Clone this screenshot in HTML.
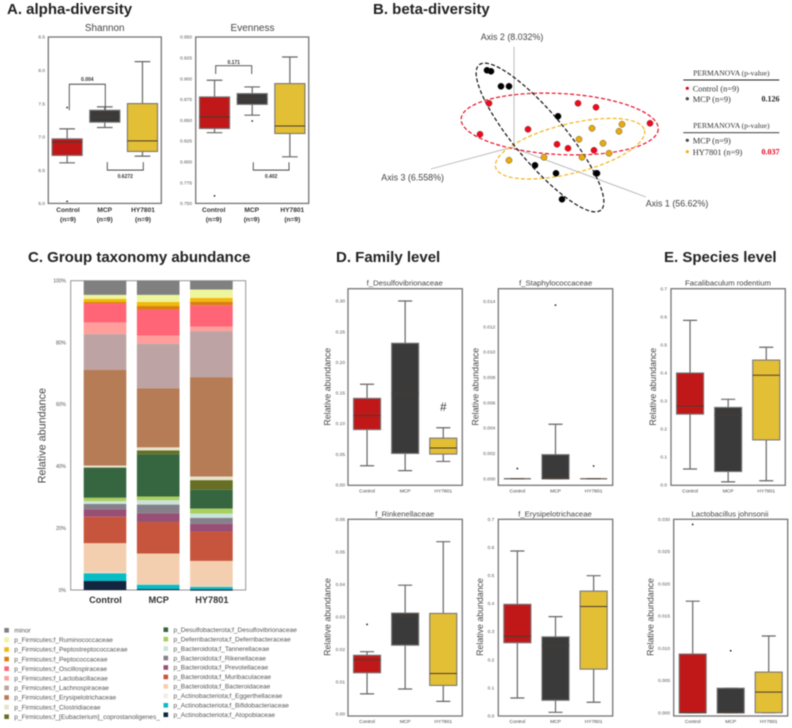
<!DOCTYPE html>
<html lang="en">
<head>
<meta charset="utf-8">
<title>Microbiome diversity and taxonomy figure</title>
<style>
html,body{margin:0;padding:0;background:#fff;}
svg{display:block;filter:blur(0.45px);font-family:"Liberation Sans",sans-serif;}
.h{font-weight:bold;fill:#222;}
.s{font-family:"Liberation Serif",serif;fill:#333;}
</style>
</head>
<body>
<svg id="fig" xmlns="http://www.w3.org/2000/svg" width="792" height="728" viewBox="0 0 792 728">
<rect x="0" y="0" width="792" height="728" fill="#fff"/>
<text class="h" x="7" y="14" font-size="15">A. alpha-diversity</text>
<text class="h" x="373" y="14" font-size="15">B. beta-diversity</text>
<text class="h" x="28" y="262" font-size="15">C. Group taxonomy abundance</text>
<text class="h" x="336" y="262" font-size="15">D. Family level</text>
<text class="h" x="664" y="262" font-size="15">E. Species level</text>

<g stroke="#b5b5b5" stroke-width="0.9">
<line x1="514" y1="46.7" x2="514" y2="147.3"/>
<line x1="511.7" y1="147.3" x2="646" y2="197"/>
<line x1="511.7" y1="147.3" x2="430.7" y2="169"/>
</g>
<text x="480.7" y="40" font-size="8.9" fill="#444">Axis 2 (8.032%)</text>
<text x="381.3" y="180.5" font-size="8.9" fill="#444">Axis 3 (6.558%)</text>
<text x="645.7" y="206.5" font-size="8.9" fill="#444">Axis 1 (56.62%)</text>
<g fill="none" stroke-width="1.2" stroke-dasharray="4 2.2">
<ellipse cx="559.7" cy="124" rx="98.7" ry="30.5" transform="rotate(3 559.7 124)" stroke="#e8102a"/>
<ellipse cx="570" cy="148.7" rx="76.7" ry="24.7" transform="rotate(-14 570 148.7)" stroke="#f2b418"/>
<ellipse cx="540" cy="137.5" rx="94.8" ry="25" transform="rotate(50 540 137.5)" stroke="#111"/>
</g>
<g id="pcoa-points"></g>

<g>
<text class="s" x="731.3" y="75.5" font-size="7.6" text-anchor="middle">PERMANOVA (p-value)</text>
<line x1="683.3" y1="80" x2="779.3" y2="80" stroke="#222" stroke-width="0.9"/>
<circle cx="687.3" cy="88.3" r="1.6" fill="#e3001b"/>
<text class="s" x="692.7" y="91.5" font-size="8.4">Control (n=9)</text>
<circle cx="687.3" cy="98.7" r="1.6" fill="#444"/>
<text class="s" x="692.7" y="102" font-size="8.4">MCP (n=9)</text>
<text class="s" x="779.5" y="101.5" font-size="8" font-weight="bold" text-anchor="end" style="fill:#222">0.126</text>
</g>
<g>
<text class="s" x="731.3" y="128" font-size="7.6" text-anchor="middle">PERMANOVA (p-value)</text>
<line x1="683.3" y1="132.7" x2="779.3" y2="132.7" stroke="#222" stroke-width="0.9"/>
<circle cx="687.3" cy="140.3" r="1.6" fill="#444"/>
<text class="s" x="692.7" y="143.3" font-size="8.4">MCP (n=9)</text>
<circle cx="687.3" cy="151.7" r="1.6" fill="#f2b418"/>
<text class="s" x="692.7" y="155" font-size="8.4">HY7801 (n=9)</text>
<text class="s" x="779.5" y="154.5" font-size="8" font-weight="bold" text-anchor="end" style="fill:#e3001b">0.037</text>
</g>

<text x="443.3" y="411" font-size="11.5" text-anchor="middle" fill="#333">#</text>

<g id="charts"></g>
</svg>

<script>
/* ---------- box plot data ---------- */
const categories = ['Control', 'MCP', 'HY7801'];

const shannonTicks = ['6.0', '6.5', '7.0', '7.5', '8.0', '8.5'];
const shannonLow = [6.61, 7.14, 6.71];
const shannonQ1 = [6.72, 7.22, 6.78];
const shannonMedian = [6.92, 7.30, 6.94];
const shannonQ3 = [6.97, 7.40, 7.50];
const shannonHigh = [7.12, 7.45, 8.13];
const shannonFliers = [[7.44, 6.03], [], []];

const evennessTicks = ['0.750', '0.775', '0.800', '0.825', '0.850', '0.875', '0.900', '0.925', '0.950'];
const evennessLow = [0.835, 0.856, 0.806];
const evennessQ1 = [0.840, 0.869, 0.834];
const evennessMedian = [0.854, 0.875, 0.843];
const evennessQ3 = [0.878, 0.882, 0.894];
const evennessHigh = [0.898, 0.890, 0.926];
const evennessFliers = [[0.759], [0.849], []];

const desulfoTicks = ['0.00', '0.05', '0.10', '0.15', '0.20', '0.25', '0.30'];
const desulfoLow = [0.031, 0.023, 0.038];
const desulfoQ1 = [0.090, 0.051, 0.050];
const desulfoMedian = [0.113, 0.149, 0.060];
const desulfoQ3 = [0.141, 0.231, 0.076];
const desulfoHigh = [0.164, 0.300, 0.093];
const desulfoFliers = [[], [], []];

const staphTicks = ['0.000', '0.002', '0.004', '0.006', '0.008', '0.010', '0.012', '0.014'];
const staphLow = [0, 0, 0];
const staphQ1 = [0, 0, 0];
const staphMedian = [0, 0, 0];
const staphQ3 = [0, 0.0019, 0];
const staphHigh = [0, 0.0043, 0];
const staphFliers = [[0.0008], [0.0137], [0.0010]];

const rikenTicks = ['0.00', '0.01', '0.02', '0.03', '0.04', '0.05', '0.06'];
const rikenLow = [0.0062, 0.0077, 0.0039];
const rikenQ1 = [0.0127, 0.0212, 0.0088];
const rikenMedian = [0.0167, 0.0302, 0.0125];
const rikenQ3 = [0.0181, 0.0311, 0.0310];
const rikenHigh = [0.0192, 0.0397, 0.0531];
const rikenFliers = [[0.0276], [], []];

const erysipTicks = ['0.0', '0.1', '0.2', '0.3', '0.4', '0.5', '0.6', '0.7'];
const erysipLow = [0.063, 0.012, 0.048];
const erysipQ1 = [0.260, 0.055, 0.166];
const erysipMedian = [0.283, 0.250, 0.389];
const erysipQ3 = [0.397, 0.281, 0.444];
const erysipHigh = [0.587, 0.353, 0.499];
const erysipFliers = [[], [], []];

const faecalTicks = ['0.0', '0.1', '0.2', '0.3', '0.4', '0.5', '0.6', '0.7'];
const faecalLow = [0.056, 0.010, 0.014];
const faecalQ1 = [0.252, 0.047, 0.160];
const faecalMedian = [0.281, 0.249, 0.391];
const faecalQ3 = [0.399, 0.276, 0.445];
const faecalHigh = [0.587, 0.305, 0.491];
const faecalFliers = [[], [], []];

const johnsoniiTicks = ['0.000', '0.005', '0.010', '0.015', '0.020', '0.025', '0.030'];
const johnsoniiLow = [0, 0, 0];
const johnsoniiQ1 = [0, 0, 0];
const johnsoniiMedian = [0, 0, 0.0032];
const johnsoniiQ3 = [0.0091, 0.0038, 0.0063];
const johnsoniiHigh = [0.0173, 0.0038, 0.0119];
const johnsoniiFliers = [[0.0292], [0.0096], []];

/* ---------- stacked bar data (top of the stack first) ---------- */
const taxa = ['minor', 'p_Firmicutes;f_Ruminococcaceae', 'p_Firmicutes;f_Peptostreptococcaceae', 'p_Firmicutes;f_Peptococcaceae', 'p_Firmicutes;f_Oscillospiraceae', 'p_Firmicutes;f_Lactobacillaceae', 'p_Firmicutes;f_Lachnospiraceae', 'p_Firmicutes;f_Erysipelotrichaceae', 'p_Firmicutes;f_Clostridiaceae', 'p_Firmicutes;f_[Eubacterium]_coprostanoligenes_', 'p_Desulfobacterota;f_Desulfovibrionaceae', 'p_Deferribacterota;f_Deferribacteraceae', 'p_Bacteroidota;f_Tannerellaceae', 'p_Bacteroidota;f_Rikenellaceae', 'p_Bacteroidota;f_Prevotellaceae', 'p_Bacteroidota;f_Muribaculaceae', 'p_Bacteroidota;f_Bacteroidaceae', 'p_Actinobacteriota;f_Eggerthellaceae', 'p_Actinobacteriota;f_Bifidobacteriaceae', 'p_Actinobacteriota;f_Atopobiaceae'];
const taxonColors = ['#808080', '#eef59a', '#f2b90c', '#d97f0e', '#ff6477', '#ff9e9a', '#bda3a3', '#b57c55', '#e6e2cc', '#666f24', '#366640', '#a9cf5c', '#c9e4da', '#86808b', '#984f75', '#c7553e', '#f3cfb0', '#f5ece8', '#08bcc6', '#13263f'];
const controlAbundance = [4.6, 1.3, 1.0, 0.5, 6.1, 3.8, 11.5, 31.0, 0.6, 0.1, 9.7, 1.1, 0.9, 1.7, 2.4, 8.6, 9.5, 0.2, 2.5, 2.9];
const mcpAbundance = [4.6, 2.3, 1.3, 1.1, 8.5, 2.6, 14.4, 19.1, 1.0, 1.2, 13.7, 1.2, 1.4, 2.8, 2.8, 10.2, 10.0, 0.1, 1.4, 0.3];
const hyAbundance = [2.9, 2.7, 1.2, 1.1, 7.0, 1.4, 14.9, 32.1, 1.2, 3.1, 6.1, 1.6, 1.4, 1.9, 2.5, 9.5, 8.3, 0.1, 0.8, 0.4];
const abundanceTicks = ['0%', '20%', '40%', '60%', '80%', '100%'];

/* ---------- PCoA projected scores ---------- */
const mcpScoreX = [-0.27, -0.23, -0.13, -0.05, 0.44, 0.21, 0.42, 0.82, 0.83, 0.48];
const mcpScoreY = [0.77, 0.76, 0.61, 0.61, 0.31, -0.18, -0.26, -0.26, -0.26, -0.52];
const controlScoreX = [-0.25, -0.34, 0.14, 0.64, 0.82, 1.36, 0.43, 0.54, 0.80];
const controlScoreY = [0.44, 0.13, 0.18, 0.44, 0.40, 0.24, 0.03, -0.01, -0.03];
const hyScoreX = [1.08, 1.05, 0.78, 0.65, 0.89, 0.95, 0.68, 0.30, -0.05];
const hyScoreY = [0.23, 0.16, 0.19, 0.08, 0.04, -0.06, -0.10, -0.10, -0.13];

/* ---------- drawing ---------- */
const NS = 'http://www.w3.org/2000/svg';
const groupColors = ['#c01818', '#3a3a3a', '#e3bf35'];
const root = document.getElementById('charts');

function add(parent, tag, attrs, text) {
  const node = document.createElementNS(NS, tag);
  for (const k in attrs) node.setAttribute(k, attrs[k]);
  if (text !== undefined) node.textContent = text;
  parent.appendChild(node);
  return node;
}
function linear(d0, p0, d1, p1) {
  return function (v) { return p0 + (v - d0) * (p1 - p0) / (d1 - d0); };
}

function drawBoxPanel(p) {
  const g = add(root, 'g', {});
  
  
  const y = linear(p.d0, p.p0, p.d1, p.p1);
  const band = (p.right - p.left) / categories.length;
  const x = function (i) { return p.left + band * (i + 0.5); };
  const boxW = band * p.widthRatio;
  const capW = boxW * 0.52;

  let el = add(g, 'rect', { x: p.left, y: p.top, width: p.right - p.left, height: p.bottom - p.top, fill: 'none', stroke: '#757575', 'stroke-width': 1.3 });
  
  

  el = add(g, 'text', { x: p.titleX, y: p.titleY, 'font-size': p.titleSize, 'text-anchor': 'middle', fill: '#444' }, p.title);
  
  

  if (p.yTitleX) {
    el = add(g, 'text', { x: 0, y: 0, 'font-size': 8.8, 'text-anchor': 'middle', fill: '#444', transform: 'translate(' + p.yTitleX + ' ' + p.yTitleY + ') rotate(-90)' }, 'Relative abundance');
    
    
  }

  p.ticks.forEach(function (t) {
    const lab = add(g, 'text', { x: p.tickX, y: y(parseFloat(t)) + 1.7, 'font-size': 4.8, 'text-anchor': 'end', fill: '#555' }, t);
    
    
  });

  categories.forEach(function (c, i) {
    const cx = x(i);
    const whisker = add(g, 'path', {
      d: 'M' + cx + ' ' + y(p.q3[i]) + 'V' + y(p.high[i]) + 'M' + (cx - capW / 2) + ' ' + y(p.high[i]) + 'H' + (cx + capW / 2) +
         'M' + cx + ' ' + y(p.q1[i]) + 'V' + y(p.low[i]) + 'M' + (cx - capW / 2) + ' ' + y(p.low[i]) + 'H' + (cx + capW / 2),
      fill: 'none', stroke: '#666', 'stroke-width': 1.2
    });
    
    

    const box = add(g, 'rect', { x: cx - boxW / 2, y: y(p.q3[i]), width: boxW, height: Math.max(0, y(p.q1[i]) - y(p.q3[i])), fill: groupColors[i], stroke: '#777', 'stroke-width': 1.1 });
    
    

    const med = add(g, 'line', { x1: cx - boxW / 2, x2: cx + boxW / 2, y1: y(p.median[i]), y2: y(p.median[i]), stroke: '#4a3a30', 'stroke-width': 1 });
    
    

    p.fliers[i].forEach(function (v) {
      const f = add(g, 'circle', { cx: cx, cy: y(v), r: 0.9, fill: '#222' });
      
      
    });

    if (p.boldCats) {
      const c1 = add(g, 'text', { x: p.catX[i], y: 212, 'font-size': 6.6, 'font-weight': 'bold', 'text-anchor': 'middle', fill: '#333' }, c);
      
      
      const c2 = add(g, 'text', { x: p.catX[i], y: 221.5, 'font-size': 6.6, 'font-weight': 'bold', 'text-anchor': 'middle', fill: '#333' }, '(n=9)');
      
      
    } else {
      const c1 = add(g, 'text', { x: cx, y: p.catY, 'font-size': 4.9, 'text-anchor': 'middle', fill: '#444' }, c);
      
      
    }
  });

  (p.brackets || []).forEach(function (b) {
    const br = add(g, 'path', { d: 'M' + b.x0 + ' ' + y(b.v0) + 'V' + y(b.v1) + 'H' + b.x1 + 'V' + y(b.v0), fill: 'none', stroke: '#444', 'stroke-width': 0.9 });
    
    
    const bl = add(g, 'text', { x: (b.x0 + b.x1) / 2, y: b.labelY, 'font-size': 5, 'font-weight': 'bold', 'text-anchor': 'middle', fill: '#333' }, b.label);
    
    
  });
}

drawBoxPanel({ name: 'shannon', title: 'Shannon', titleX: 104.7, titleY: 31, titleSize: 9.9, left: 48.3, right: 161.3, top: 37, bottom: 203.4, d0: 6.0, p0: 203.4, d1: 8.5, p1: 37, widthRatio: 0.8, tickX: 45, ticks: shannonTicks, low: shannonLow, q1: shannonQ1, median: shannonMedian, q3: shannonQ3, high: shannonHigh, fliers: shannonFliers, boldCats: true, catX: [68, 104.7, 143],
  brackets: [{ x0: 69.3, x1: 105.3, v0: 7.40, v1: 7.79, label: '0.004', labelY: 81 }, { x0: 107.3, x1: 143.3, v0: 6.62, v1: 6.50, label: '0.6272', labelY: 178 }] });
drawBoxPanel({ name: 'evenness', title: 'Evenness', titleX: 252.5, titleY: 31, titleSize: 10, left: 195.7, right: 308.7, top: 37, bottom: 203.4, d0: 0.75, p0: 203.4, d1: 0.95, p1: 37, widthRatio: 0.8, tickX: 192, ticks: evennessTicks, low: evennessLow, q1: evennessQ1, median: evennessMedian, q3: evennessQ3, high: evennessHigh, fliers: evennessFliers, boldCats: true, catX: [213.7, 251.7, 292.3],
  brackets: [{ x0: 215.7, x1: 251.7, v0: 0.9055, v1: 0.9155, label: '0.171', labelY: 64 }, { x0: 253.3, x1: 289, v0: 0.7995, v1: 0.79, label: '0.402', labelY: 178 }] });
drawBoxPanel({ name: 'desulfovibrionaceae', title: 'f_Desulfovibrionaceae', titleX: 404.7, titleY: 285.5, titleSize: 7.7, left: 348, right: 462.3, top: 288.7, bottom: 485.3, d0: 0, p0: 484.7, d1: 0.30, p1: 301, widthRatio: 0.71, tickX: 345, ticks: desulfoTicks, low: desulfoLow, q1: desulfoQ1, median: desulfoMedian, q3: desulfoQ3, high: desulfoHigh, fliers: desulfoFliers, catY: 492.5, yTitleX: 330.5, yTitleY: 386.7 });
drawBoxPanel({ name: 'staphylococcaceae', title: 'f_Staphylococcaceae', titleX: 555.7, titleY: 285.5, titleSize: 7.7, left: 498.3, right: 612.7, top: 288.7, bottom: 485.3, d0: 0, p0: 478.7, d1: 0.014, p1: 301.3, widthRatio: 0.71, tickX: 495.3, ticks: staphTicks, low: staphLow, q1: staphQ1, median: staphMedian, q3: staphQ3, high: staphHigh, fliers: staphFliers, catY: 492.5, yTitleX: 478.5, yTitleY: 386.7 });
drawBoxPanel({ name: 'rikenellaceae', title: 'f_Rinkenellaceae', titleX: 404.7, titleY: 516.5, titleSize: 7.7, left: 348, right: 462.3, top: 519.3, bottom: 716, d0: 0, p0: 714, d1: 0.06, p1: 519.3, widthRatio: 0.71, tickX: 345, ticks: rikenTicks, low: rikenLow, q1: rikenQ1, median: rikenMedian, q3: rikenQ3, high: rikenHigh, fliers: rikenFliers, catY: 723, yTitleX: 330.5, yTitleY: 617 });
drawBoxPanel({ name: 'erysipelotrichaceae', title: 'f_Erysipelotrichaceae', titleX: 555, titleY: 516.5, titleSize: 7.7, left: 498.3, right: 612.7, top: 519.3, bottom: 716, d0: 0, p0: 715.7, d1: 0.7, p1: 519.3, widthRatio: 0.71, tickX: 494.3, ticks: erysipTicks, low: erysipLow, q1: erysipQ1, median: erysipMedian, q3: erysipQ3, high: erysipHigh, fliers: erysipFliers, catY: 723, yTitleX: 483, yTitleY: 617 });
drawBoxPanel({ name: 'faecalibaculum-rodentium', title: 'Facalibaculum rodentium', titleX: 728, titleY: 285.5, titleSize: 7.7, left: 671, right: 785.3, top: 288.7, bottom: 485.3, d0: 0, p0: 484.7, d1: 0.7, p1: 288.7, widthRatio: 0.71, tickX: 667, ticks: faecalTicks, low: faecalLow, q1: faecalQ1, median: faecalMedian, q3: faecalQ3, high: faecalHigh, fliers: faecalFliers, catY: 492.5, yTitleX: 656, yTitleY: 386.7 });
drawBoxPanel({ name: 'lactobacillus-johnsonii', title: 'Lactobacillus johnsonii', titleX: 730, titleY: 516.5, titleSize: 7.7, left: 673.7, right: 787.7, top: 519.3, bottom: 716, d0: 0, p0: 712.7, d1: 0.03, p1: 519.3, widthRatio: 0.71, tickX: 670, ticks: johnsoniiTicks, low: johnsoniiLow, q1: johnsoniiQ1, median: johnsoniiMedian, q3: johnsoniiQ3, high: johnsoniiHigh, fliers: johnsoniiFliers, catY: 723, yTitleX: 653.5, yTitleY: 617 });

/* stacked bars */
(function () {
  const g = add(root, 'g', {});
  
  
  const y = linear(0, 590, 100, 280.7);
  const x = function (i) { return 105 + 53.2 * i; };
  const barW = 42.6;
  const series = [controlAbundance, mcpAbundance, hyAbundance];

  let el = add(g, 'rect', { x: 70.7, y: 280.7, width: 175, height: 309.3, fill: 'none', stroke: '#8a8a8a', 'stroke-width': 0.9 });
  
  

  abundanceTicks.forEach(function (t) {
    const lab = add(g, 'text', { x: 66, y: y(parseFloat(t)) + 1.8, 'font-size': 5, 'text-anchor': 'end', fill: '#555' }, t);
    
    
  });

  el = add(g, 'text', { x: 0, y: 0, 'font-size': 10.8, 'text-anchor': 'middle', fill: '#444', transform: 'translate(45.5 435.7) rotate(-90)' }, 'Relative abundance');
  
  

  categories.forEach(function (c, i) {
    let level = 100;
    series[i].forEach(function (v, k) {
      const seg = add(g, 'rect', { x: x(i) - barW / 2, y: y(level), width: barW, height: y(level - v) - y(level), fill: taxonColors[k] });
      
      
      level -= v;
    });
    const lab = add(g, 'text', { x: x(i) + 0.5, y: 603, 'font-size': 9.2, 'font-weight': 'bold', 'text-anchor': 'middle', fill: '#333' }, c);
    
    
  });

  /* legend: two columns of ten */
  taxa.forEach(function (name, k) {
    const left = k < 10;
    const row = left ? k : k - 10;
    const yPos = left ? 630.3 + row * 9.6 : 629.7 + row * 9.45;
    const sx = left ? 4.3 : 163.5;
    const tx = left ? 14.3 : 173.5;
    const sw = add(g, 'rect', { x: sx, y: yPos - 2.3, width: 4.6, height: 4.6, fill: taxonColors[k] });
    
    
    const t = add(g, 'text', { x: tx, y: yPos + 2.2, 'font-size': 6.55, fill: '#555' }, name);
    
    
  });
})();

/* PCoA points */
(function () {
  const g = document.getElementById('pcoa-points');
  const px = linear(0, 514, 1, 614);
  const py = linear(0, 147.3, 1, 47.3);
  const groups = [
    { n: 'mcp', xs: mcpScoreX, ys: mcpScoreY, fill: '#000', stroke: '#222' },
    { n: 'control', xs: controlScoreX, ys: controlScoreY, fill: '#ec0a1e', stroke: '#8a3a3a' },
    { n: 'hy7801', xs: hyScoreX, ys: hyScoreY, fill: '#e9a90f', stroke: '#6b5a2a' }
  ];
  groups.forEach(function (s) {
    s.xs.forEach(function (v, i) {
      const c = add(g, 'circle', { cx: px(v), cy: py(s.ys[i]), r: 3.1, fill: s.fill, stroke: s.stroke, 'stroke-width': 0.5 });
      
      
    });
  });
})();
</script>
</body>
</html>
